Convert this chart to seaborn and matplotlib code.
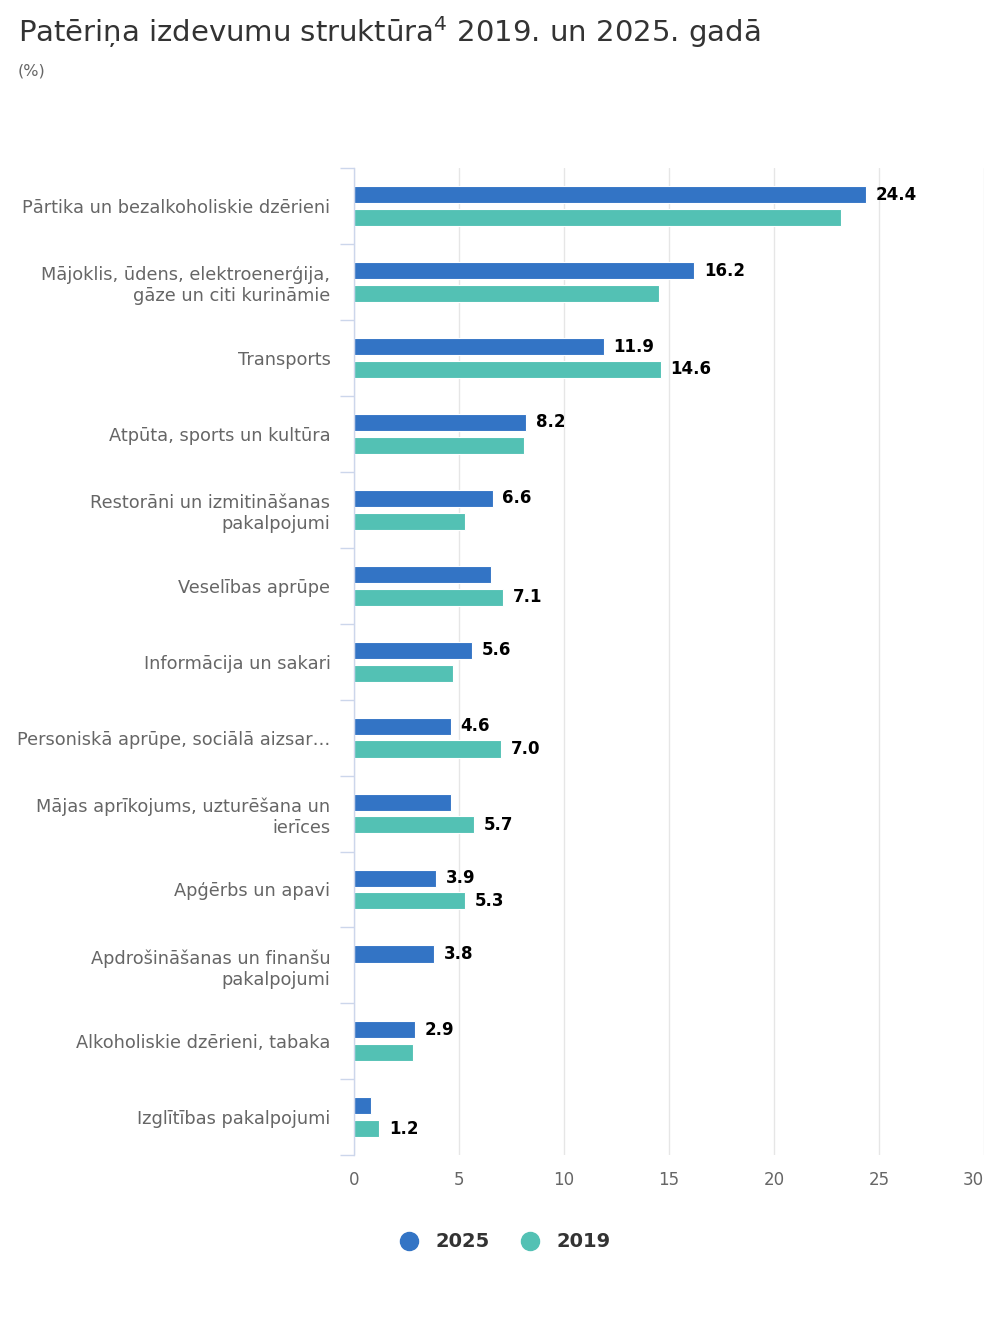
import numpy as np
import pandas as pd
import matplotlib
matplotlib.use("Agg")
import matplotlib.pyplot as plt
from matplotlib.lines import Line2D
import seaborn as sns

categories = [
    "Pārtika un bezalkoholiskie dzērieni",
    "Mājoklis, ūdens, elektroenerģija,\ngāze un citi kurināmie",
    "Transports",
    "Atpūta, sports un kultūra",
    "Restorāni un izmitināšanas\npakalpojumi",
    "Veselības aprūpe",
    "Informācija un sakari",
    "Personiskā aprūpe, sociālā aizsar…",
    "Mājas aprīkojums, uzturēšana un\nierīces",
    "Apģērbs un apavi",
    "Apdrošināšanas un finanšu\npakalpojumi",
    "Alkoholiskie dzērieni, tabaka",
    "Izglītības pakalpojumi",
]
values_2025 = [24.4, 16.2, 11.9, 8.2, 6.6, 6.5, 5.6, 4.6, 4.6, 3.9, 3.8, 2.9, 0.8]
values_2019 = [23.2, 14.5, 14.6, 8.1, 5.3, 7.1, 4.7, 7.0, 5.7, 5.3, np.nan, 2.8, 1.2]
series = ["2025", "2019"]
x_ticks = [0, 5, 10, 15, 20, 25, 30]

colors = {"2025": "#3374c5", "2019": "#53c1b4"}

df = pd.DataFrame({
    "category": categories * 2,
    "value": values_2025 + values_2019,
    "year": [series[0]] * len(categories) + [series[1]] * len(categories),
})

sns.set_style("white")
plt.rcParams["font.family"] = ["DejaVu Sans"]

fig = plt.figure(figsize=(10, 13.34), dpi=100)
ax = fig.add_axes([0.354, 0.134, 0.630, 0.740])

sns.barplot(data=df, x="value", y="category", hue="year", hue_order=series,
            order=categories, palette=colors, saturation=1, orient="h",
            width=0.6, gap=0.25, errorbar=None, edgecolor="white",
            linewidth=0.8, legend=False, ax=ax)

ax.set_xlim(0, 30)
ax.set_ylim(len(categories) - 0.5, -0.5)
ax.set_xticks(x_ticks)
ax.set_xticklabels([str(t) for t in x_ticks])
ax.get_xticklabels()[-1].set_horizontalalignment("right")
ax.set_xlabel("")
ax.set_ylabel("")

ax.grid(axis="x", color="#e6e6e6", linewidth=1)
ax.grid(axis="y", visible=False)
ax.set_axisbelow(True)
for s in ["top", "right", "bottom"]:
    ax.spines[s].set_visible(False)
ax.spines["left"].set_color("#ccd6eb")
ax.spines["left"].set_linewidth(1)
ax.spines["left"].set_zorder(5)

ax.tick_params(axis="x", length=0, pad=11, labelsize=12, labelcolor="#666666")
ax.tick_params(axis="y", which="major", left=False, length=0, pad=17,
               labelsize=12.8, labelcolor="#666666")
ax.set_yticks(np.arange(-0.5, len(categories), 1.0), minor=True)
ax.tick_params(axis="y", which="minor", left=True, length=10, width=1,
               color="#ccd6eb", direction="out")
for lab in ax.get_yticklabels():
    lab.set_linespacing(1.22)
    lab.set_horizontalalignment("right")

# data labels; where two labels of one category collide, keep the larger one
texts = {}
for si, cont in enumerate(ax.containers):
    for patch in cont.patches:
        if patch is None:
            continue
        w = patch.get_width()
        if np.isnan(w):
            continue
        x = patch.get_x() + w
        y = patch.get_y() + patch.get_height() / 2
        ci = int(round(y))
        t = ax.annotate(f"{w:.1f}", (x, y), xytext=(7, 0),
                        textcoords="offset points", ha="left", va="center",
                        fontsize=12, fontweight="bold", color="#000000")
        texts[(si, ci)] = (w, t)

fig.canvas.draw()
renderer = fig.canvas.get_renderer()
for ci in range(len(categories)):
    if (0, ci) in texts and (1, ci) in texts:
        (wa, ta), (wb, tb) = texts[(0, ci)], texts[(1, ci)]
        ba, bb = ta.get_window_extent(renderer), tb.get_window_extent(renderer)
        lo, hi = (ba, bb) if wa < wb else (bb, ba)
        if lo.x1 - hi.x0 > 1:
            (ta if wa < wb else tb).remove()

fig.text(0.018, 0.976, "Patēriņa izdevumu struktūra$^{4}$ 2019. un 2025. gadā",
         fontsize=21, color="#333333", va="center", ha="left")
fig.text(0.018, 0.947, "(%)", fontsize=11.5, color="#666666", va="center", ha="left")

handles = [Line2D([0], [0], marker="o", linestyle="", markersize=13,
                  markerfacecolor=colors[s], markeredgecolor=colors[s]) for s in series]
leg = fig.legend(handles, series, loc="center", bbox_to_anchor=(0.5, 0.069),
                 ncol=2, frameon=False, fontsize=14, handletextpad=0.35,
                 columnspacing=1.1)
for t in leg.get_texts():
    t.set_fontweight("bold")
    t.set_color("#333333")

fig.savefig("out.png", dpi=100, facecolor="white")
